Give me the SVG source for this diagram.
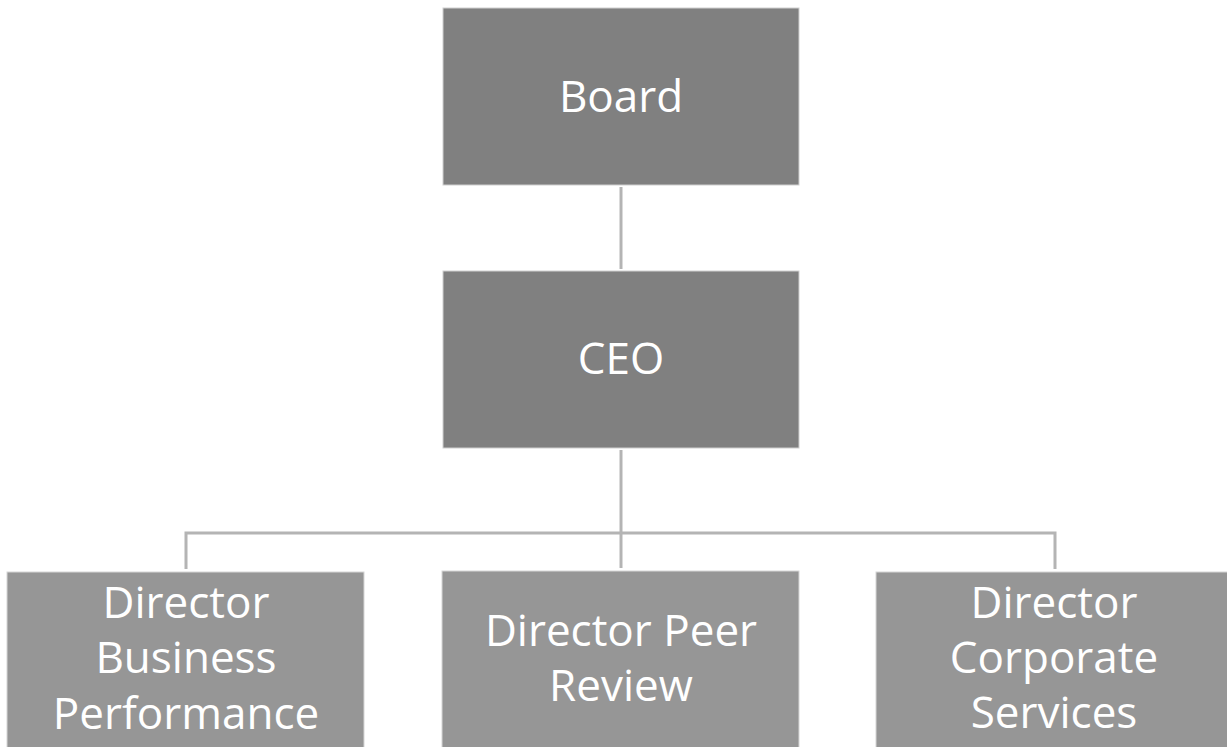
<svg xmlns="http://www.w3.org/2000/svg" width="1227" height="747" viewBox="0 0 1227 747">
<style>
.top{fill:#808080;stroke:#cfcfcf;stroke-width:1}
.sub{fill:#969696;stroke:#d6d6d6;stroke-width:1}
.lbl{font-family:"Open Sans","Noto Sans","Liberation Sans",sans-serif;font-size:44px;fill:#ffffff;text-anchor:middle}
.conn{fill:none;stroke:#b4b4b4;stroke-width:3}
</style>
<rect width="1227" height="747" fill="#ffffff"/>
<g id="connectors">
<line class="conn" x1="621" y1="187" x2="621" y2="269"/>
<line class="conn" x1="621" y1="450" x2="621" y2="568"/>
<polyline class="conn" points="186,569 186,533 1055,533 1055,569"/>
</g>
<g id="board">
<rect class="top" x="443" y="8" width="356" height="177"/>
<text class="lbl" x="621" y="112">Board</text>
</g>
<g id="ceo">
<rect class="top" x="443" y="271" width="356" height="177"/>
<text class="lbl" x="621" y="374">CEO</text>
</g>
<g id="dir-business">
<rect class="sub" x="7" y="572" width="357" height="185"/>
<text class="lbl" x="186" y="618">Director</text>
<text class="lbl" x="186" y="673">Business</text>
<text class="lbl" x="186" y="729">Performance</text>
</g>
<g id="dir-peer">
<rect class="sub" x="442" y="571" width="357" height="186"/>
<text class="lbl" x="621" y="646">Director Peer</text>
<text class="lbl" x="621" y="701">Review</text>
</g>
<g id="dir-corporate">
<rect class="sub" x="876" y="572" width="357" height="185"/>
<text class="lbl" x="1054" y="618">Director</text>
<text class="lbl" x="1054" y="673">Corporate</text>
<text class="lbl" x="1054" y="728">Services</text>
</g>
</svg>
